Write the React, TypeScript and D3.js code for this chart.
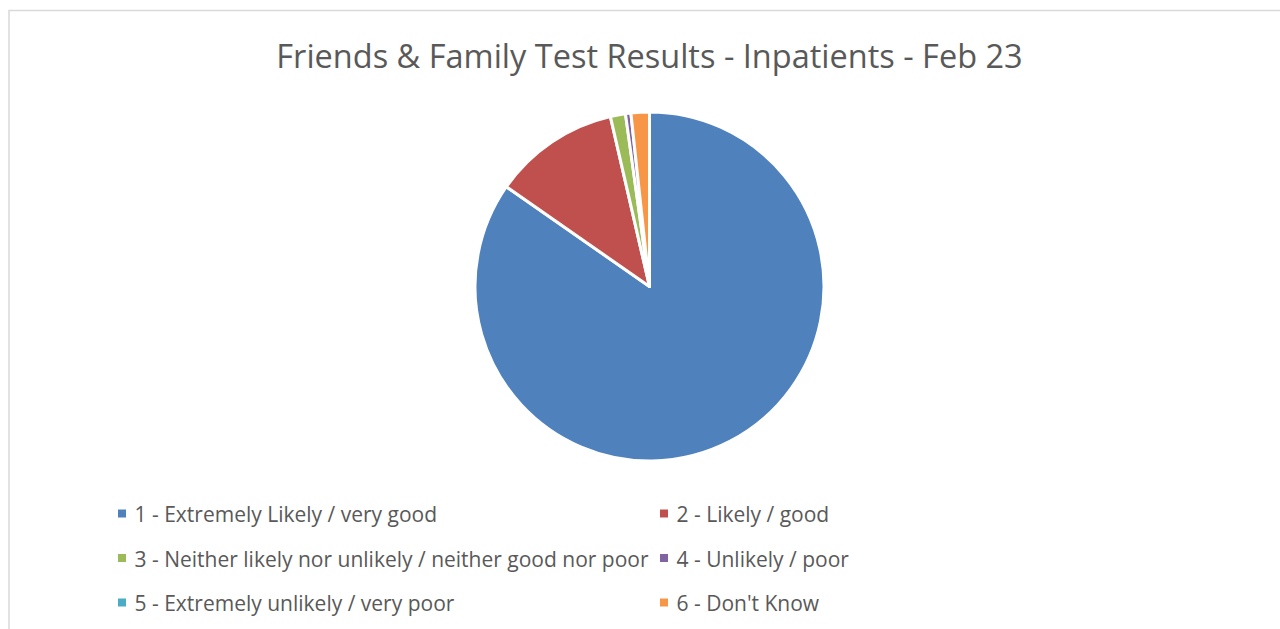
import { useMemo } from "react";
import * as d3 from "d3";

const categories = [
  "1 - Extremely Likely / very good",
  "2 - Likely / good",
  "3 - Neither likely nor unlikely / neither good nor poor",
  "4 - Unlikely / poor",
  "5 - Extremely unlikely / very poor",
  "6 - Don't Know",
];
const shares = [84.6, 11.7, 1.4, 0.5, 0, 1.7];
const colors = ["#4F81BD", "#C0504D", "#9BBB59", "#8064A2", "#4BACC6", "#F79646"];
const title = "Friends & Family Test Results - Inpatients - Feb 23";

const W = 1280;
const H = 629;
const FONT = "'Open Sans', sans-serif";
const TEXT = "#595959";

export default function App() {
  const cx = 649.5;
  const cy = 286.5;
  const r = 174.5;

  const arcs = useMemo(() => {
    const pie = d3.pie<number>().sort(null).value((d) => d);
    return pie(shares);
  }, []);
  const arcGen = d3.arc<d3.PieArcDatum<number>>().innerRadius(0).outerRadius(r);

  // legend grid: 2 columns x 3 rows
  const colX = d3.scaleOrdinal<number, number>().domain([0, 1]).range([118, 660]);
  const rowY = d3.scaleLinear().domain([0, 2]).range([513.5, 602.5]);

  return (
    <svg
      width={W}
      height={H}
      style={{ position: "absolute", left: 0, top: 0, display: "block" }}
      fontFamily={FONT}
    >
      <rect x={0} y={0} width={W} height={H} fill="#fff" />
      <rect x={9} y={10.5} width={W + 50} height={H + 50} fill="#fff" stroke="#d9d9d9" strokeWidth={1.5} />

      <text x={cx} y={67.5} textAnchor="middle" fontSize={32.5} fill={TEXT}>
        {title}
      </text>

      <g transform={`translate(${cx},${cy})`}>
        {arcs.map((a, i) =>
          a.value > 0 ? (
            <path key={i} d={arcGen(a) ?? ""} fill={colors[i]} stroke="#fff" strokeWidth={3} strokeLinejoin="round" />
          ) : null
        )}
      </g>

      <g>
        {categories.map((c, i) => {
          const x = colX(i % 2);
          const y = rowY(Math.floor(i / 2));
          return (
            <g key={c} transform={`translate(${x},${y})`}>
              <rect x={0} y={-4} width={8} height={8} fill={colors[i]} />
              <text x={16.5} y={8.5} fontSize={21} fill={TEXT}>
                {c}
              </text>
            </g>
          );
        })}
      </g>
    </svg>
  );
}
